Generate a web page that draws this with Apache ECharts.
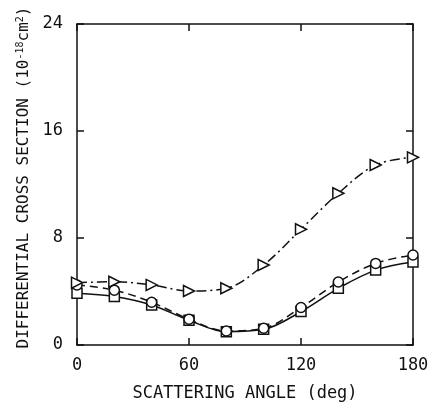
<!DOCTYPE html>
<html>
<head>
<meta charset="utf-8">
<script src="https://cdn.jsdelivr.net/npm/echarts@6/dist/echarts.min.js"></script>
<style>
  html, body { margin: 0; padding: 0; background: #fff; }
  #chart { width: 430px; height: 402px; }
</style>
</head>
<body>
<div id="chart"></div>
<script>
// scattering angle (deg)
const angles = [0, 20, 40, 60, 80, 100, 120, 140, 160, 180]
// differential cross section, 10^-18 cm^2
const triangleVals = [4.66, 4.73, 4.49, 4.04, 4.24, 5.98, 8.65, 11.34, 13.46, 14.03]
const circleVals = [4.49, 4.1, 3.2, 1.93, 1.05, 1.25, 2.8, 4.71, 6.1, 6.73]
const squareVals = [3.87, 3.63, 2.99, 1.85, 1.0, 1.17, 2.5, 4.24, 5.6, 6.2]
const xTicks = [0, 60, 120, 180]
const yTicks = [0, 8, 16, 24]

const font = 'DejaVu Sans Mono'
const ink = '#111'

const pairs = (vals) => angles.map((a, i) => [a, vals[i]])

const chart = echarts.init(document.getElementById('chart'))

// frame axis: line on the edge, ticks pointing into the plot
function frameAxis(extra) {
  return {
    type: 'value',
    axisLine: { show: true, onZero: false, lineStyle: { color: ink, width: 1.5 } },
    axisTick: { show: true, inside: true, length: 7, lineStyle: { color: ink, width: 1.5 } },
    splitLine: { show: false },
    ...extra,
  }
}

function series(vals, symbol, dash, size, rotate) {
  return {
    type: 'line',
    data: pairs(vals),
    smooth: 0.35,
    symbol: symbol,
    symbolSize: size,
    symbolRotate: rotate || 0,
    showAllSymbol: true,
    lineStyle: { color: ink, width: 1.5, type: dash },
    itemStyle: { color: '#fff', borderColor: ink, borderWidth: 1.5 },
    z: 3,
  }
}

chart.setOption({
  animation: false,
  backgroundColor: '#fff',
  grid: { left: 77, right: 17, top: 24, bottom: 57, containLabel: false, outerBoundsMode: 'none' },
  xAxis: [
    frameAxis({
      position: 'bottom',
      min: xTicks[0],
      max: xTicks[xTicks.length - 1],
      interval: 60,
      axisLabel: { color: ink, fontFamily: font, fontSize: 17, margin: 12 },
      name: 'SCATTERING ANGLE (deg)',
      nameLocation: 'middle',
      nameGap: 40,
      nameTextStyle: { color: ink, fontFamily: font, fontSize: 17 },
    }),
    frameAxis({
      position: 'top',
      min: xTicks[0],
      max: xTicks[xTicks.length - 1],
      interval: 60,
      axisLabel: { show: false },
    }),
  ],
  yAxis: [
    frameAxis({
      position: 'left',
      min: yTicks[0],
      max: yTicks[yTicks.length - 1],
      interval: 8,
      axisLabel: { color: ink, fontFamily: font, fontSize: 17, margin: 14 },
      name: '{a|DIFFERENTIAL CROSS SECTION (10}{s|-18}{a|cm}{s|2}{a|)}',
      nameLocation: 'middle',
      nameGap: 38,
      nameTextStyle: {
        color: ink,
        fontFamily: font,
        padding: [0, 0, 0, 14],
        rich: {
          a: { fontFamily: font, fontSize: 16, color: ink },
          s: { fontFamily: font, fontSize: 10, color: ink, verticalAlign: 'top' },
        },
      },
    }),
    frameAxis({
      position: 'right',
      min: yTicks[0],
      max: yTicks[yTicks.length - 1],
      interval: 8,
      axisLabel: { show: false },
    }),
  ],
  series: [
    series(squareVals, 'rect', 'solid', 10),
    series(circleVals, 'circle', [8, 5], 10),
    series(triangleVals, 'triangle', [10, 4, 2, 4], 11, -90),
  ],
})
</script>
</body>
</html>
